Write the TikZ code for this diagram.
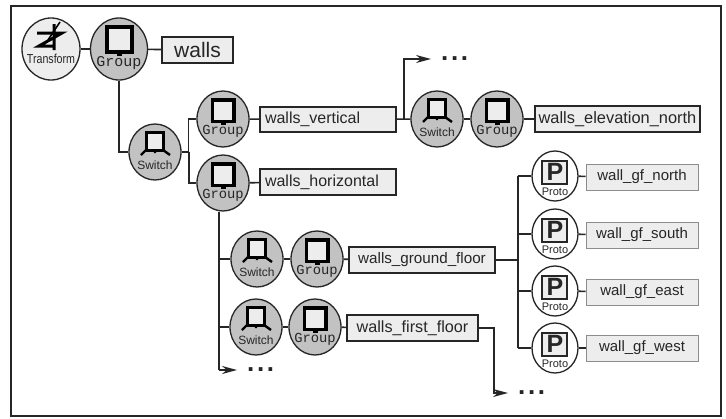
\documentclass[tikz,border=0pt]{standalone}
\usepackage{fontspec}
\setmainfont{Liberation Sans}
\newfontfamily\mymono{Liberation Mono}
\usetikzlibrary{shapes.geometric,arrows.meta,calc}
\definecolor{ink}{gray}{0.15}
\definecolor{disc}{gray}{0.76}
\definecolor{pale}{gray}{0.93}
\tikzset{
  x=1pt,y=-1pt,
  wire/.style={draw=ink,line width=1.6pt},
  heavy/.style={draw=ink,line width=2.2pt},
  tipped/.style={wire,-{Stealth[length=15pt,width=8pt]}},
  bigdisc/.style={ellipse,draw=ink,line width=1.3pt,fill=disc,minimum width=57pt,minimum height=62pt,inner sep=0pt},
  middisc/.style={ellipse,draw=ink,line width=1.3pt,fill=disc,minimum width=52pt,minimum height=56pt,inner sep=0pt},
  protodisc/.style={ellipse,draw=ink,line width=1.3pt,fill=white,minimum width=46pt,minimum height=50pt,inner sep=0pt},
  xformdisc/.style={ellipse,draw=ink,line width=1.3pt,fill=pale,minimum width=58pt,minimum height=62pt,inner sep=0pt},
  namebox/.style={draw=ink,line width=1.4pt,fill=pale,inner sep=0pt,font=\fontsize{16}{16}\selectfont,text=ink},
  leafbox/.style={draw=black!45,line width=.9pt,fill=pale,inner sep=0pt,minimum width=112pt,minimum height=26pt,font=\fontsize{15}{15}\selectfont,text=ink},
  iconcap/.style={inner sep=0pt,text=ink},
  dotsn/.style={inner sep=0pt,inner xsep=10pt,text height=3.6pt,text depth=0pt,font=\fontsize{26}{26}\selectfont\bfseries,text=ink},
  groupicon/.pic={
    \draw[black,line width=3.6pt,fill=pale] (-12,-22) rectangle (13,3);
    \fill[black] (-2,3) rectangle (3,7);
  },
  switchicon/.pic={
    \draw[black,line width=3pt,fill=pale] (-9,-20) rectangle (8,-2);
    \draw[black,line width=2.4pt] (-9,-2) -- (-14,3) (8,-2) -- (15,3) (0,-2) -- (0,1);
  },
  protoicon/.pic={
    \draw[ink,line width=1.1pt,fill=pale] (-13,-15) rectangle (12,8);
  }
}
\newcommand{\threedots}{.\kern2.6pt.\kern2.6pt.}
\newcommand{\groupnode}[4]{% name, x, y, size key
  \ifnum#4=1
    \node[bigdisc] (#1) at (#2,#3) {};
    \pic at (#2,#3) {groupicon};
    \node[iconcap,font=\mymono\fontsize{15}{15}\selectfont] (#1t) at (#2,#3+14) {Group};
  \else
    \node[middisc] (#1) at (#2,#3) {};
    \pic[scale=.86] at (#2,#3) {groupicon};
    \node[iconcap,font=\mymono\fontsize{13.8}{14}\selectfont] (#1t) at (#2,#3+12) {Group};
  \fi}
\newcommand{\switchnode}[3]{%
  \node[middisc] (#1) at (#2,#3) {};
  \pic at (#2,#3) {switchicon};
  \node[iconcap,font=\fontsize{12}{12}\selectfont] (#1t) at (#2,#3+13) {Switch};}
\newcommand{\protonode}[3]{%
  \node[protodisc] (#1) at (#2,#3) {};
  \pic at (#2,#3) {protoicon};
  \node[iconcap,font=\fontsize{25}{25}\selectfont\bfseries] (#1p) at (#2,#3-4) {P};
  \node[iconcap,font=\fontsize{11}{11}\selectfont] (#1t) at (#2,#3+15.5) {Proto};}
\begin{document}
\begin{tikzpicture}
\useasboundingbox (0,0) rectangle (726,418);
\fill[white] (0,0) rectangle (726,418);
\draw[ink,line width=2.4pt] (11,6) rectangle (721,416);

% Transform
\node[xformdisc] (tr) at (51,49) {};
\draw[black,line width=3pt] (37,33) -- (62,33) -- (39,46) -- (53,46) (54,24) -- (54,50);
\draw[black,line width=1.6pt] (60,22) -- (48,40);
\node[iconcap,font=\fontsize{13}{13}\selectfont,xscale=.82] (trt) at (51,59) {Transform};

\groupnode{ga}{119}{49}{1}
\node[namebox,minimum width=71pt,minimum height=26pt,font=\fontsize{21}{21}\selectfont] (walls) at (197.5,50) {walls};

\switchnode{sa}{155}{152}
\groupnode{gb}{223}{119}{2}
\groupnode{gc}{223}{183}{2}
\node[namebox,minimum width=136pt,minimum height=25pt,text width=126pt,align=left] (wv) at (328,119.5) {walls\_vertical};
\node[namebox,minimum width=136pt,minimum height=26pt,text width=126pt,align=left] (wh) at (328,182) {walls\_horizontal};

\switchnode{sb}{437}{119}
\groupnode{gd}{497}{119}{2}
\node[namebox,line width=2pt,minimum width=165pt,minimum height=26pt,font=\fontsize{16.4}{16}\selectfont] (wen) at (617.5,119) {walls\_elevation\_north};
\node[dotsn,anchor=west] (d1) at (431,59) {\threedots};
\coordinate (up) at (404,119);

\switchnode{sc}{257}{259}
\groupnode{ge}{317}{259}{2}
\node[namebox,minimum width=146pt,minimum height=26pt,font=\fontsize{15.2}{15}\selectfont] (wg) at (422,260) {walls\_ground\_floor};
\switchnode{sd}{256}{327}
\groupnode{gf}{315}{327}{2}
\node[namebox,minimum width=131pt,minimum height=26pt,font=\fontsize{16.2}{16}\selectfont] (wf) at (412.5,328) {walls\_first\_floor};

\protonode{pa}{555}{176}
\protonode{pb}{555}{234}
\protonode{pc}{555}{291}
\protonode{pd}{555}{348}
\node[leafbox] (la) at (642,177) {wall\_gf\_north};
\node[leafbox] (lb) at (642,235) {wall\_gf\_south};
\node[leafbox] (lc) at (642,292) {wall\_gf\_east};
\node[leafbox] (ld) at (642,348) {wall\_gf\_west};

\node[dotsn,anchor=west] (d2) at (237,370) {\threedots};
\node[dotsn,anchor=west] (d3) at (508,393) {\threedots};

% connectors
\draw[wire] (tr) -- (ga);
\draw[wire] (ga) -- (walls);
\draw[heavy] (ga.south) -- (ga.south |- sa.west) -- (sa.west);
\draw[wire] (sa.east) -- ++(7,0) coordinate (ja);
\draw[wire] (ja) |- (gb.west);
\draw[heavy] (ja) |- (gc.west);
\draw[wire] (gb) -- (wv);
\draw[wire] (gc) -- (wh);
\draw[wire] (wv) -- (sb);
\draw[wire] (sb) -- (gd);
\draw[wire] (gd) -- (wen);
\draw[tipped] (up) |- (d1.west);

\coordinate (gcb) at ($(gc.south)+(-4,0)$);
\draw[heavy] (gcb) -- (gcb |- sc.west) -- (sc.west);
\draw[wire] (gcb |- sc.west) -- (gcb |- d2.west);
\draw[tipped] (gcb |- d2.west) -- (d2.west);
\draw[wire] (gcb |- sd.west) -- (sd.west);
\draw[wire] (sc) -- (ge);
\draw[wire] (ge) -- (wg);
\draw[wire] (sd) -- (gf);
\draw[wire] (gf) -- (wf);
\draw[tipped] (wf.east) -- ++(15,0) |- (d3.west);

\draw[heavy] (wg.east) -- ++(22,0) coordinate (jb);
\draw[heavy] (jb |- pa.west) -- (jb |- pd.west);
\draw[heavy] (jb |- pa.west) -- (pa.west);
\draw[heavy] (jb |- pb.west) -- (pb.west);
\draw[heavy] (jb |- pc.west) -- (pc.west);
\draw[heavy] (jb |- pd.west) -- (pd.west);
\draw[wire] (pa) -- (la);
\draw[wire] (pb) -- (lb);
\draw[wire] (pc) -- (lc);
\draw[wire] (pd) -- (ld);
\end{tikzpicture}
\end{document}
